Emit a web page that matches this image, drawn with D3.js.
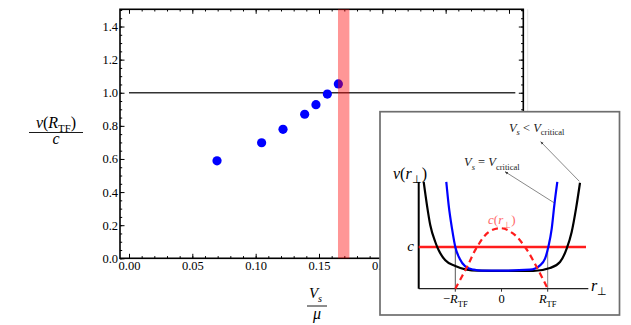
<!DOCTYPE html>
<html>
<head>
<meta charset="utf-8">
<script src="https://cdn.jsdelivr.net/npm/d3@7"></script>
<style>
body { margin: 0; background: #fff; }
svg { display: block; }
svg text { font-family: "Liberation Serif", "Times New Roman", serif; }
.frame .domain { display: none; }
.frame line { stroke: #000; stroke-width: 1; }
</style>
</head>
<body>
<div id="chart"></div>
<script>
// main plot: v(R_TF)/c against V_s/mu
const vsOverMu = [0.0695, 0.1047, 0.1216, 0.1387, 0.1476, 0.1566, 0.1653];
const vRatio   = [0.589, 0.698, 0.779, 0.870, 0.928, 0.992, 1.053];
const xTicks = [0, 0.05, 0.10, 0.15, 0.20, 0.25, 0.30];
const yTicks = [0, 0.2, 0.4, 0.6, 0.8, 1.0, 1.2, 1.4];
const criticalBand = [0.165, 0.174];
const refLevel = 1.0;
const refSpan = [0, 0.305];

// inset sketch (r in units of R_TF, v in units of c)
const blackR = [-1.684, -1.613, -1.541, -1.433, -1.359, -1.216, -1.0, -0.784, -0.494, 0, 0.688, 1.05, 1.266, 1.411, 1.519, 1.613, 1.699];
const blackV = [2.56, 2.0, 1.52, 1.12, 0.92, 0.68, 0.544, 0.465, 0.432, 0.428, 0.424, 0.496, 0.64, 0.96, 1.36, 1.92, 2.54];
const blueR = [-1.195, -1.143, -1.071, -1.0, -0.905, -0.784, -0.602, -0.422, 0, 0.617, 0.833, 0.942, 1.013, 1.087, 1.143, 1.208];
const blueV = [2.56, 2.0, 1.44, 1.0, 0.72, 0.537, 0.456, 0.432, 0.432, 0.456, 0.561, 0.719, 1.0, 1.44, 2.0, 2.56];
const cR = [-1.0, -0.747, -0.530, -0.277, 0, 0.255, 0.509, 0.762, 1.0];
const cV = [0, 0.52, 1.0, 1.36, 1.45, 1.32, 1.0, 0.52, 0];
const insetTicks = [-1, 0, 1];

const W = 631, H = 325;
const frame = {left: 120, top: 9.3, right: 523.3, bottom: 258.3};
const serif = "'Liberation Serif', 'Times New Roman', serif";

const svg = d3.select("#chart").append("svg")
    .attr("width", W).attr("height", H)
    .attr("font-family", serif);

const x = d3.scaleLinear().domain([-0.0071, 0.3113]).range([frame.left, frame.right]);
const y = d3.scaleLinear().domain([0, 1.504]).range([frame.bottom, frame.top]);

// text with italic parts and subscripts
function rich(t, parts, size) {
    let shift = 0;
    t.attr("font-family", serif);
    parts.forEach(p => {
        const s = p.sub ? 0.28 * size : 0;
        t.append("tspan")
            .attr("dy", s - shift)
            .attr("font-size", p.sub ? size * 0.68 : size)
            .attr("font-style", p.it ? "italic" : "normal")
            .text(p.t);
        shift = s;
    });
}

// frame ticks (inward, all four sides)
const xMinor = d3.range(0, 0.3101, 0.01);
const yMinor = d3.range(0, 1.501, 0.05);
function addAxis(axis, tx, ty) {
    return svg.append("g").attr("class", "frame")
        .attr("transform", `translate(${tx},${ty})`)
        .call(axis);
}
addAxis(d3.axisBottom(x).tickValues(xMinor).tickSize(-2.2).tickFormat(""), 0, frame.bottom);
addAxis(d3.axisTop(x).tickValues(xMinor).tickSize(-2.2).tickFormat(""), 0, frame.top);
addAxis(d3.axisLeft(y).tickValues(yMinor).tickSize(-2.2).tickFormat(""), frame.left, 0);
addAxis(d3.axisRight(y).tickValues(yMinor).tickSize(-2.2).tickFormat(""), frame.right, 0);
addAxis(d3.axisTop(x).tickValues(xTicks).tickSize(-4.5).tickFormat(""), 0, frame.top);
addAxis(d3.axisRight(y).tickValues(yTicks).tickSize(-4.5).tickFormat(""), frame.right, 0);
addAxis(d3.axisBottom(x).tickValues(xTicks).tickSize(-4.5).tickPadding(3.2).tickFormat(d3.format(".2f")), 0, frame.bottom);
addAxis(d3.axisLeft(y).tickValues(yTicks).tickSize(-4.5).tickPadding(2).tickFormat(d3.format(".1f")), frame.left, 0);
svg.selectAll(".frame")
    .attr("font-family", serif).attr("font-size", 12.5);
svg.selectAll(".frame text").attr("fill", "#000");

svg.append("rect")
    .attr("x", frame.left).attr("y", frame.top)
    .attr("width", frame.right - frame.left).attr("height", frame.bottom - frame.top)
    .attr("fill", "none").attr("stroke", "#000").attr("stroke-width", 1.6);

// faint edge line right of the frame
svg.append("line")
    .attr("x1", frame.right + 4.4).attr("x2", frame.right + 4.4)
    .attr("y1", frame.top).attr("y2", 112)
    .attr("stroke", "#e2e2e2").attr("stroke-width", 1);

// reference line at 1
svg.append("line")
    .attr("x1", x(refSpan[0])).attr("x2", x(refSpan[1]))
    .attr("y1", y(refLevel)).attr("y2", y(refLevel))
    .attr("stroke", "#333").attr("stroke-width", 1.6);

// points
svg.selectAll(".pt")
    .data(vsOverMu.map((v, i) => [v, vRatio[i]]))
    .enter().append("circle")
    .attr("class", "pt")
    .attr("cx", d => x(d[0])).attr("cy", d => y(d[1]))
    .attr("r", 4.6).attr("fill", "#0000ff");

// critical band
svg.append("rect")
    .attr("x", x(criticalBand[0])).attr("y", frame.top)
    .attr("width", x(criticalBand[1]) - x(criticalBand[0]))
    .attr("height", frame.bottom - frame.top)
    .attr("fill", "#ff0000").attr("opacity", 0.41);

// axis titles
const yt = svg.append("text").attr("x", 56).attr("y", 127.5)
    .attr("text-anchor", "middle");
rich(yt, [{t: "v", it: true}, {t: "("}, {t: "R", it: true}, {t: "TF", sub: true}, {t: ")"}], 16);
svg.append("line").attr("x1", 29).attr("x2", 83).attr("y1", 132.5).attr("y2", 132.5)
    .attr("stroke", "#000").attr("stroke-width", 0.9);
svg.append("text").attr("x", 56).attr("y", 144).attr("text-anchor", "middle")
    .attr("font-style", "italic").attr("font-size", 16).text("c");

const xt = svg.append("text").attr("x", 315.5).attr("y", 298)
    .attr("text-anchor", "middle");
rich(xt, [{t: "V", it: true}, {t: "s", it: true, sub: true}], 15);
svg.append("line").attr("x1", 307).attr("x2", 327).attr("y1", 306).attr("y2", 306)
    .attr("stroke", "#000").attr("stroke-width", 0.9);
svg.append("text").attr("x", 317).attr("y", 318.5).attr("text-anchor", "middle")
    .attr("font-style", "italic").attr("font-size", 16).text("μ");

// ---------- inset ----------
const inset = svg.append("g");
inset.append("rect")
    .attr("x", 380).attr("y", 111.7).attr("width", 239.5).attr("height", 203.3)
    .attr("fill", "#fff").attr("stroke", "#6e6e6e").attr("stroke-width", 1.7);

const xi = d3.scaleLinear().domain([-1, 1]).range([455.3, 547.7]);
const yi = d3.scaleLinear().domain([0, 1]).range([288.7, 247]);
const rMin = -1.792, rMax = 1.879, cEnd = 1.829, vTop = 2.56;

// guide lines at +-R_TF
insetTicks.filter(d => d !== 0).forEach(d => {
    inset.append("line")
        .attr("x1", xi(d)).attr("x2", xi(d)).attr("y1", yi(0)).attr("y2", yi(1))
        .attr("stroke", d < 0 ? "#555" : "#888").attr("stroke-width", 1);
});

// axes
inset.append("line")
    .attr("x1", xi(rMin)).attr("x2", xi(rMax)).attr("y1", yi(0)).attr("y2", yi(0))
    .attr("stroke", "#222").attr("stroke-width", 1.2);
inset.append("line")
    .attr("x1", xi(rMin)).attr("x2", xi(rMin)).attr("y1", yi(0)).attr("y2", yi(vTop))
    .attr("stroke", "#000").attr("stroke-width", 2);
inset.selectAll(".itk").data(insetTicks).enter().append("line")
    .attr("x1", d => xi(d)).attr("x2", d => xi(d))
    .attr("y1", yi(0)).attr("y2", yi(0) + 3)
    .attr("stroke", "#333").attr("stroke-width", 1);

const line = d3.line().x(d => xi(d[0])).y(d => yi(d[1]));

// c line
inset.append("line")
    .attr("x1", xi(rMin)).attr("x2", xi(cEnd)).attr("y1", yi(1)).attr("y2", yi(1))
    .attr("stroke", "#ff1c1c").attr("stroke-width", 2.6);

inset.append("path")
    .datum(blackR.map((r, i) => [r, blackV[i]]))
    .attr("d", line.curve(d3.curveMonotoneX))
    .attr("fill", "none").attr("stroke", "#000").attr("stroke-width", 2.2);
inset.append("path")
    .datum(blueR.map((r, i) => [r, blueV[i]]))
    .attr("d", line.curve(d3.curveMonotoneX))
    .attr("fill", "none").attr("stroke", "#0000ff").attr("stroke-width", 2.2);
inset.append("path")
    .datum(cR.map((r, i) => [r, cV[i]]))
    .attr("d", line.curve(d3.curveCatmullRom))
    .attr("fill", "none").attr("stroke", "#ff1c1c").attr("stroke-width", 2.2)
    .attr("stroke-dasharray", "6,4");

// labels
const vl = inset.append("text").attr("x", 393).attr("y", 178.5);
rich(vl, [{t: "v", it: true}, {t: "("}, {t: "r", it: true}, {t: "⊥", sub: true}, {t: ")"}], 16);
inset.append("text").attr("x", 410.7).attr("y", 250.5).attr("text-anchor", "middle")
    .attr("font-style", "italic").attr("font-size", 15).text("c");
const cl = inset.append("text").attr("x", 488).attr("y", 224).attr("fill", "#ff6a6a");
rich(cl, [{t: "c", it: true}, {t: "("}, {t: "r", it: true}, {t: "⊥", sub: true}, {t: ")"}], 13);
const rl = inset.append("text").attr("x", 591).attr("y", 290.5);
rich(rl, [{t: "r", it: true}, {t: "⊥", sub: true}], 16);

const tickParts = {
    "-1": [{t: "−"}, {t: "R", it: true}, {t: "TF", sub: true}],
    "0": [{t: "0"}],
    "1": [{t: "R", it: true}, {t: "TF", sub: true}]
};
insetTicks.forEach(d => {
    const t = inset.append("text").attr("x", xi(d)).attr("y", 303)
        .attr("text-anchor", "middle");
    rich(t, tickParts[String(d)], 12.5);
});

// annotations with arrows
svg.append("defs").append("marker")
    .attr("id", "ah").attr("viewBox", "0 0 10 10")
    .attr("refX", 9).attr("refY", 5)
    .attr("markerWidth", 5).attr("markerHeight", 5)
    .attr("orient", "auto")
  .append("path").attr("d", "M0,1.5L10,5L0,8.5z").attr("fill", "#333");

const arrows = [
    {from: [1.136, 2.062], to: [0.076, 2.806]},
    {from: [1.684, 2.576], to: [0.848, 3.525]}
];
arrows.forEach(a => {
    inset.append("line")
        .attr("x1", xi(a.from[0])).attr("y1", yi(a.from[1]))
        .attr("x2", xi(a.to[0])).attr("y2", yi(a.to[1]))
        .attr("stroke", "#555").attr("stroke-width", 0.7)
        .attr("marker-end", "url(#ah)");
});

const a1 = inset.append("text").attr("x", xi(-0.21)).attr("y", yi(2.94))
    .attr("text-anchor", "middle").attr("fill", "#222");
rich(a1, [{t: "V", it: true}, {t: "s", it: true, sub: true}, {t: " = "}, {t: "V", it: true}, {t: "critical", sub: true}], 12.5);
const a2 = inset.append("text").attr("x", xi(0.762)).attr("y", yi(3.76))
    .attr("text-anchor", "middle").attr("fill", "#222");
rich(a2, [{t: "V", it: true}, {t: "s", it: true, sub: true}, {t: " < "}, {t: "V", it: true}, {t: "critical", sub: true}], 12.5);
</script>
</body>
</html>
